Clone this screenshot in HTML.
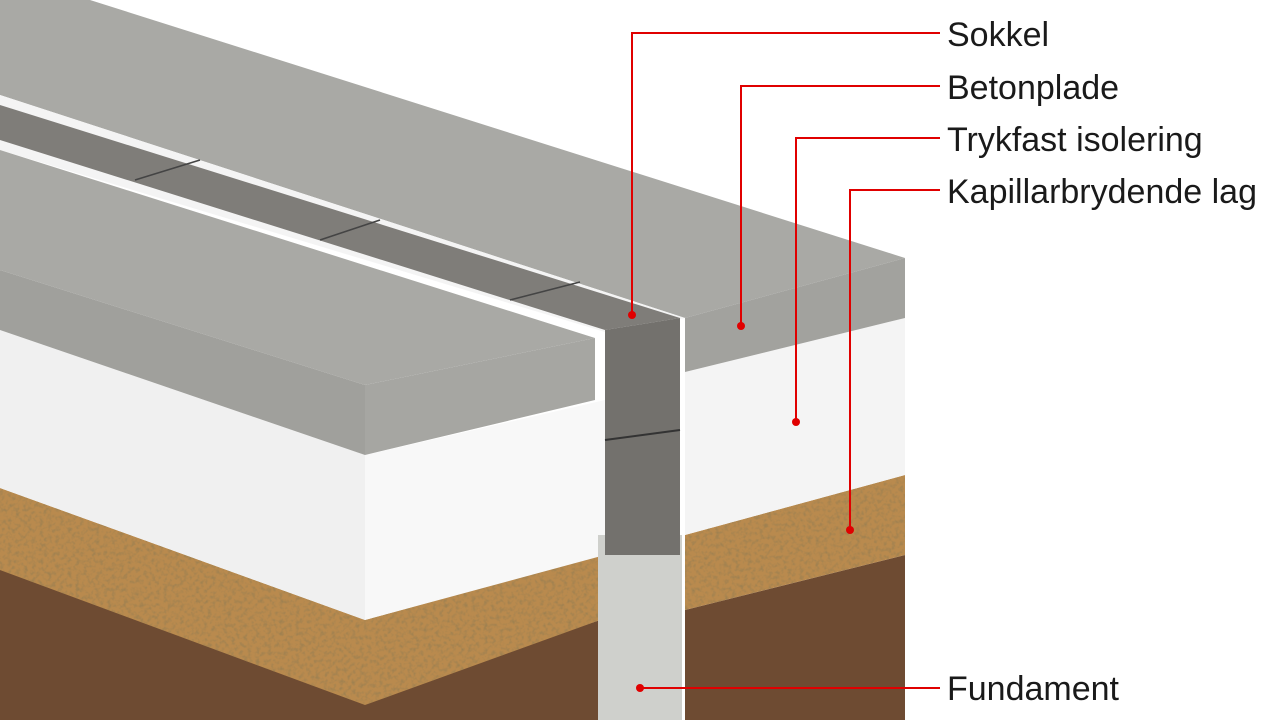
<!DOCTYPE html>
<html><head><meta charset="utf-8"><style>
html,body{margin:0;padding:0;background:#fff;}
svg{display:block}
text{font-family:"Liberation Sans",sans-serif;font-size:34px;fill:#1a1a1a}
</style></head><body>
<svg width="1280" height="720" viewBox="0 0 1280 720">
<defs>
<filter id="g" x="0" y="0" width="100%" height="100%">
<feTurbulence type="fractalNoise" baseFrequency="0.25" numOctaves="2" seed="5"/>
<feColorMatrix values="0 0 0 0 0.35  0 0 0 0 0.22  0 0 0 0 0.08  0 0 0 -2.5 1.4"/>
<feComposite in2="SourceGraphic" operator="in"/>
</filter>
</defs>
<rect width="1280" height="720" fill="#fff"/>
<!-- soil -->
<polygon points="0,560 365,700 600,620 600,720 0,720" fill="#6e4b32"/>
<polygon points="685,610 905,555 905,720 685,720" fill="#6e4b32"/>
<!-- gravel -->
<polygon points="0,488 365,620 600,555 600,620 365,705 0,570" fill="#b98a4e"/>
<polygon points="0,488 365,620 600,555 600,620 365,705 0,570" fill="#000" filter="url(#g)"/>
<polygon points="685,535 905,475 905,555 685,610" fill="#b98a4e"/>
<polygon points="685,535 905,475 905,555 685,610" fill="#000" filter="url(#g)"/>
<!-- insulation -->
<polygon points="0,330 365,455 365,620 0,488" fill="#f0f0f0"/>
<polygon points="365,455 605,400 605,555 365,620" fill="#f8f8f8"/>
<polygon points="685,372 905,318 905,475 685,535" fill="#f4f4f4"/>
<!-- foundation -->
<polygon points="598,535 682,535 682,720 598,720" fill="#cfd0cc"/>
<!-- right slab -->
<polygon points="90,0 905,258 685,318 0,95 0,0" fill="#a9a9a5"/>
<polygon points="685,318 905,258 905,318 685,372" fill="#a2a29e"/>
<!-- white gaps + sokkel strip -->
<polygon points="0,95 685,318 605,332 0,150" fill="#f4f4f4"/>
<polygon points="0,105 680,318 605,330 0,140" fill="#7f7d79"/>
<polygon points="605,330 680,318 680,555 605,555" fill="#73716d"/>
<line x1="605" y1="440" x2="680" y2="430" stroke="#333" stroke-width="2"/>
<line x1="135" y1="180" x2="200" y2="160" stroke="#444" stroke-width="1.5"/>
<line x1="320" y1="240" x2="380" y2="220" stroke="#444" stroke-width="1.5"/>
<line x1="510" y1="300" x2="580" y2="282" stroke="#444" stroke-width="1.5"/>
<!-- left slab -->
<polygon points="0,150 595,338 365,385 0,270" fill="#a9a9a5"/>
<polygon points="0,270 365,385 365,455 0,330" fill="#a0a09c"/>
<polygon points="365,385 595,338 595,400 365,455" fill="#a6a6a2"/>
<!-- leaders -->
<g stroke="#e00000" stroke-width="2" fill="none">
<polyline points="940,33 632,33 632,315"/>
<polyline points="940,86 741,86 741,326"/>
<polyline points="940,138 796,138 796,422"/>
<polyline points="940,190 850,190 850,530"/>
<polyline points="940,688 640,688"/>
</g>
<g fill="#e00000">
<circle cx="632" cy="315" r="4"/><circle cx="741" cy="326" r="4"/>
<circle cx="796" cy="422" r="4"/><circle cx="850" cy="530" r="4"/>
<circle cx="640" cy="688" r="4"/>
</g>
<text x="947" y="46">Sokkel</text>
<text x="947" y="99">Betonplade</text>
<text x="947" y="151">Trykfast isolering</text>
<text x="947" y="203">Kapillarbrydende lag</text>
<text x="947" y="700">Fundament</text>
</svg>
</body></html>
